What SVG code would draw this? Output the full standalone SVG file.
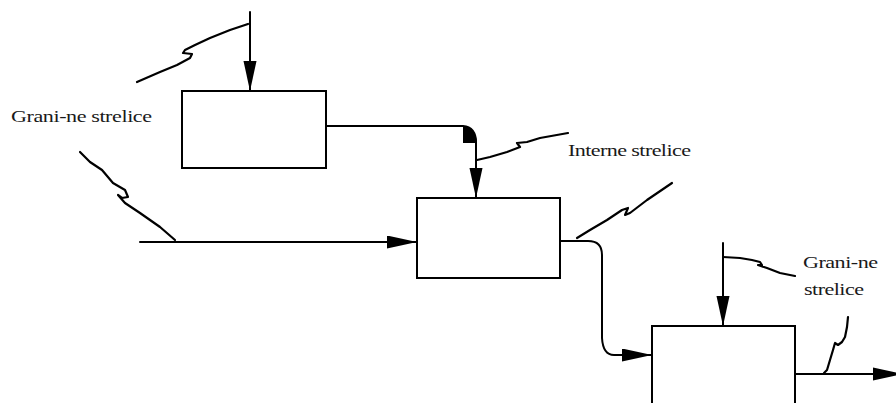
<svg xmlns="http://www.w3.org/2000/svg" width="896" height="403" viewBox="0 0 896 403">
<style>
.box{fill:#fff;stroke:#000;stroke-width:2}
.ln{fill:none;stroke:#000;stroke-width:2;stroke-linejoin:round;stroke-linecap:round}
.sq{fill:none;stroke:#000;stroke-width:2.2;stroke-linejoin:round;stroke-linecap:round}
.lbl{font-family:"Liberation Serif","Times New Roman",serif;font-size:17px;fill:#1a1a1a}
</style>
<defs>
<marker id="ah" markerUnits="userSpaceOnUse" markerWidth="30" markerHeight="14" refX="30" refY="6.5" orient="auto">
<path d="M0,0 L30,6.5 L0,13 Z" fill="#000"/>
</marker>
</defs>
<g id="box1"><rect class="box" x="182" y="91" width="144" height="77"/></g>
<g id="box2"><rect class="box" x="417" y="198" width="143" height="80"/></g>
<g id="box3"><rect class="box" x="652" y="326" width="143" height="90"/></g>
<g id="connectors">
<path class="ln" d="M250,12 L250,91" marker-end="url(#ah)"/>
<path class="ln" d="M326,126 L463,126 Q476,127 476,143 L476,198" marker-end="url(#ah)"/>
<path d="M463,126 A14,17 0 0 1 477,143 L463,143 Z" fill="#000"/>
<path class="ln" d="M140,242 L417,242" marker-end="url(#ah)"/>
<path class="ln" d="M560,241 L588,241 Q602,241 602,255 L602,338 Q603,355 614,355 L652,355" marker-end="url(#ah)"/>
<path class="ln" d="M723,243 L723,326" marker-end="url(#ah)"/>
<path class="ln" d="M795,374 L905,374"/>
<path d="M873,367.5 L896,372.5 L896,375.5 L873,380.5 Z" fill="#000"/>
</g>
<g id="squiggles">
<path class="sq" d="M248,24 L230,30 L210,38 L195,45 L185,50 L183,53 L192,54 L190,58 L177,65 L160,72 L137,82"/>
<path class="sq" d="M80,152 L90,162 L102,170 L113,183 L125,190 L128,197 L122,198 L118,195 L125,203 L140,213 L160,227 L175,240"/>
<path class="sq" d="M477,160 L490,157 L507,152 L520,147 L517,143 L527,142 L540,138 L568,133"/>
<path class="sq" d="M577,238 L590,230 L607,220 L622,210 L628,208 L625,215 L630,213 L647,200 L672,183"/>
<path class="sq" d="M723,257 L740,258 L752,260 L760,262 L762,265 L758,265 L767,268 L780,273 L795,276"/>
<path class="sq" d="M848,317 L847,327 L845,337 L842,342 L838,345 L835,343 L833,350 L830,360 L827,370 L824,373"/>
</g>
<g id="labels">
<text class="lbl" transform="translate(11,122) scale(1.3,1)" textLength="108.5" lengthAdjust="spacing">Grani-ne strelice</text>
<text class="lbl" transform="translate(568,156) scale(1.3,1)" textLength="94.6" lengthAdjust="spacing">Interne strelice</text>
<text class="lbl" transform="translate(803,268) scale(1.3,1)" textLength="57.7" lengthAdjust="spacing">Grani-ne</text>
<text class="lbl" transform="translate(804,295) scale(1.3,1)" textLength="46.2" lengthAdjust="spacing">strelice</text>
</g>
</svg>
